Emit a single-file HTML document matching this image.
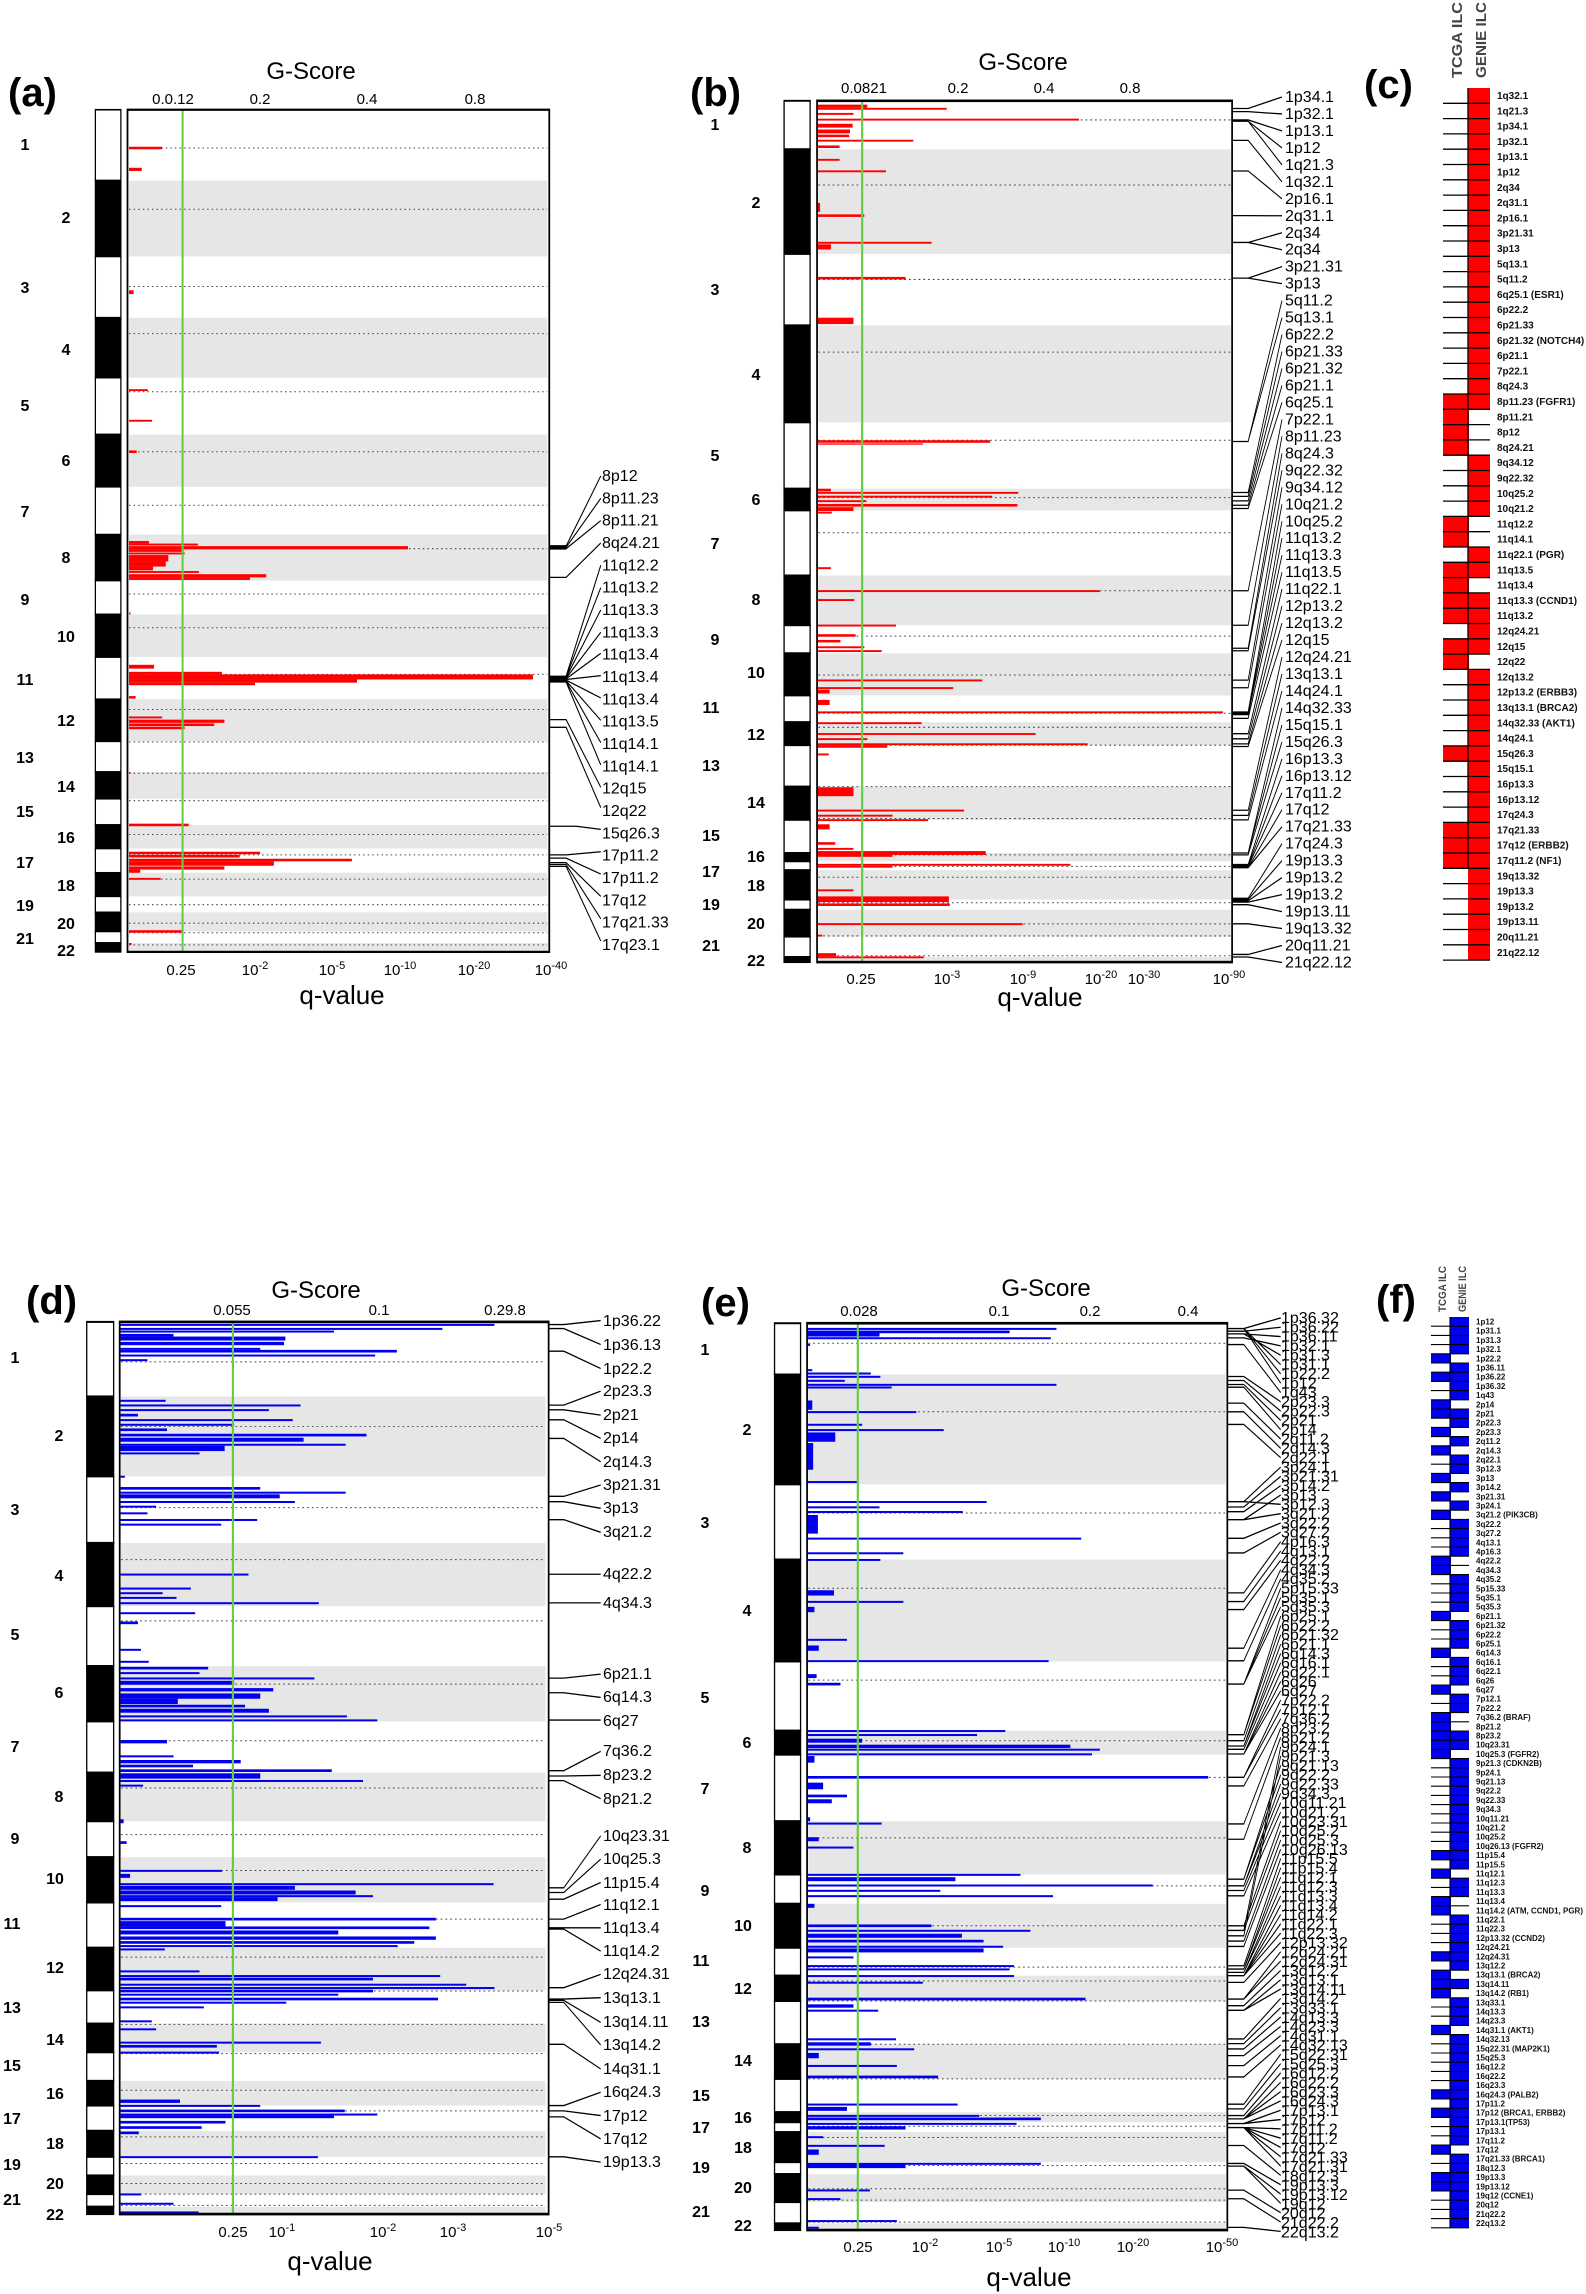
<!DOCTYPE html>
<html><head><meta charset="utf-8"><style>html,body{margin:0;padding:0;background:#fff}svg{display:block}</style></head><body>
<svg width="1586" height="2294" xmlns="http://www.w3.org/2000/svg" font-family="'Liberation Sans', sans-serif">
<rect width="1586" height="2294" fill="#fff"/>

<!-- ================= PANEL A ================= -->
<g transform="scale(0.51,0.638)">
<g fill="#e6e6e6">
<rect x="253" y="283" width="820" height="119"/><rect x="253" y="498" width="820" height="94"/><rect x="253" y="681" width="820" height="82"/><rect x="253" y="838" width="820" height="72"/><rect x="253" y="963" width="820" height="67"/><rect x="253" y="1096" width="820" height="66"/><rect x="253" y="1210" width="820" height="42"/><rect x="253" y="1293" width="820" height="37"/><rect x="253" y="1368" width="820" height="37"/><rect x="253" y="1430" width="820" height="30"/><rect x="253" y="1478" width="820" height="14"/>
</g>
<path stroke="#444" stroke-width="1.6" stroke-dasharray="3,6" fill="none" d="M253 232H1073M253 328H1073M253 449H1073M253 523H1073M253 614H1073M253 708H1073M253 792H1073M253 860H1073M253 931H1073M253 984H1073M253 1057H1073M253 1112H1073M253 1163H1073M253 1212H1073M253 1255H1073M253 1308H1073M253 1340H1073M253 1378H1073M253 1418H1073M253 1447H1073M253 1462H1073M253 1481H1073"/>
<g fill="#f00">
<rect x="253" y="230" width="65" height="4"/><rect x="253" y="263" width="25" height="5"/><rect x="253" y="455" width="9" height="6"/><rect x="253" y="610" width="37" height="3"/><rect x="253" y="658" width="45" height="3"/><rect x="253" y="706" width="15" height="4"/>
<rect x="253" y="848" width="39" height="4"/><rect x="253" y="852" width="135" height="3"/><rect x="253" y="856" width="547" height="5"/><rect x="253" y="861" width="107" height="4"/><rect x="253" y="866" width="109" height="3"/><rect x="253" y="870" width="77" height="10"/><rect x="253" y="880" width="72" height="8"/><rect x="253" y="888" width="47" height="6"/><rect x="253" y="895" width="137" height="3"/><rect x="253" y="900" width="269" height="5"/><rect x="253" y="905" width="237" height="4"/>
<rect x="253" y="960" width="3" height="3"/><rect x="253" y="1042" width="49" height="6"/><rect x="253" y="1053" width="182" height="4"/><rect x="253" y="1057" width="792" height="8"/><rect x="253" y="1065" width="447" height="5"/><rect x="253" y="1070" width="247" height="4"/><rect x="253" y="1091" width="13" height="4"/>
<rect x="253" y="1123" width="65" height="3"/><rect x="253" y="1128" width="187" height="5"/><rect x="253" y="1134" width="167" height="4"/><rect x="253" y="1139" width="109" height="4"/><rect x="253" y="1210" width="3" height="3"/><rect x="253" y="1291" width="117" height="4"/>
<rect x="253" y="1335" width="257" height="4"/><rect x="253" y="1340" width="217" height="4"/><rect x="253" y="1346" width="437" height="4"/><rect x="253" y="1350" width="284" height="7"/><rect x="253" y="1358" width="187" height="5"/><rect x="253" y="1363" width="22" height="5"/><rect x="253" y="1376" width="62" height="3"/><rect x="253" y="1458" width="103" height="4"/><rect x="253" y="1478" width="5" height="3"/>
</g>
<line x1="358" y1="172" x2="358" y2="1492" stroke="#66cc44" stroke-width="4"/>
<rect x="250" y="172" width="827" height="1320" fill="none" stroke="#000" stroke-width="3.5"/>
<g stroke="#000" stroke-width="2.5">
<rect x="187" y="172" width="50" height="111" fill="#fff"/><rect x="187" y="283" width="50" height="119" fill="#000"/><rect x="187" y="402" width="50" height="96" fill="#fff"/><rect x="187" y="498" width="50" height="94" fill="#000"/><rect x="187" y="592" width="50" height="89" fill="#fff"/><rect x="187" y="681" width="50" height="82" fill="#000"/><rect x="187" y="763" width="50" height="75" fill="#fff"/><rect x="187" y="838" width="50" height="72" fill="#000"/><rect x="187" y="910" width="50" height="53" fill="#fff"/><rect x="187" y="963" width="50" height="67" fill="#000"/><rect x="187" y="1030" width="50" height="66" fill="#fff"/><rect x="187" y="1096" width="50" height="66" fill="#000"/><rect x="187" y="1162" width="50" height="48" fill="#fff"/><rect x="187" y="1210" width="50" height="42" fill="#000"/><rect x="187" y="1252" width="50" height="41" fill="#fff"/><rect x="187" y="1293" width="50" height="37" fill="#000"/><rect x="187" y="1330" width="50" height="38" fill="#fff"/><rect x="187" y="1368" width="50" height="37" fill="#000"/><rect x="187" y="1405" width="50" height="25" fill="#fff"/><rect x="187" y="1430" width="50" height="30" fill="#000"/><rect x="187" y="1460" width="50" height="18" fill="#fff"/><rect x="187" y="1478" width="50" height="14" fill="#000"/>
</g>
<path fill="none" stroke="#000" stroke-width="2" d="M1077 856H1110L1178 746M1077 858H1110L1178 781M1077 860H1110L1178 816M1077 905H1110L1178 851M1077 1060H1110L1178 886M1077 1061H1110L1178 921M1077 1062H1110L1178 956M1077 1063H1110L1178 991M1077 1064H1110L1178 1024M1077 1065H1110L1178 1059M1077 1066H1110L1178 1094M1077 1067H1110L1178 1129M1077 1068H1110L1178 1164M1077 1069H1110L1178 1199M1077 1128H1110L1178 1234M1077 1140H1110L1178 1266M1077 1295H1130L1178 1300M1077 1340H1110L1178 1335M1077 1345H1110L1178 1370M1077 1352H1110L1178 1405M1077 1355H1110L1178 1440M1077 1358H1110L1178 1475"/>
<path fill="none" stroke="#000" stroke-width="7" d="M1077 858H1110M1077 1064H1110"/>
</g>
<text x="8" y="106" font-size="40" font-weight="bold">(a)</text>
<text x="311" y="79" font-size="24" text-anchor="middle">G-Score</text>
<g font-size="15" text-anchor="middle">
<text x="173" y="104">0.0.12</text><text x="260" y="104">0.2</text><text x="367" y="104">0.4</text><text x="475" y="104">0.8</text>
<text x="181" y="975">0.25</text><text x="255" y="975">10<tspan dy="-6" font-size="11">-2</tspan></text><text x="332" y="975">10<tspan dy="-6" font-size="11">-5</tspan></text><text x="400" y="975">10<tspan dy="-6" font-size="11">-10</tspan></text><text x="474" y="975">10<tspan dy="-6" font-size="11">-20</tspan></text><text x="551" y="975">10<tspan dy="-6" font-size="11">-40</tspan></text>
</g>
<text x="342" y="1004" font-size="26" text-anchor="middle">q-value</text>
<g font-size="16" font-weight="bold" text-anchor="middle">
<text x="25" y="150">1</text><text x="66" y="223">2</text><text x="25" y="293">3</text><text x="66" y="355">4</text><text x="25" y="411">5</text><text x="66" y="466">6</text><text x="25" y="517">7</text><text x="66" y="563">8</text><text x="25" y="605">9</text><text x="66" y="642">10</text><text x="25" y="685">11</text><text x="66" y="726">12</text><text x="25" y="763">13</text><text x="66" y="792">14</text><text x="25" y="817">15</text><text x="66" y="843">16</text><text x="25" y="868">17</text><text x="66" y="891">18</text><text x="25" y="911">19</text><text x="66" y="929">20</text><text x="25" y="944">21</text><text x="66" y="956">22</text>
</g>
<text font-size="16" x="602" y="481"><tspan x="602">8p12</tspan><tspan x="602" dy="22.33">8p11.23</tspan><tspan x="602" dy="22.33">8p11.21</tspan><tspan x="602" dy="22.33">8q24.21</tspan><tspan x="602" dy="22.33">11q12.2</tspan><tspan x="602" dy="22.33">11q13.2</tspan><tspan x="602" dy="22.33">11q13.3</tspan><tspan x="602" dy="22.33">11q13.3</tspan><tspan x="602" dy="22.33">11q13.4</tspan><tspan x="602" dy="22.33">11q13.4</tspan><tspan x="602" dy="22.33">11q13.4</tspan><tspan x="602" dy="22.33">11q13.5</tspan><tspan x="602" dy="22.33">11q14.1</tspan><tspan x="602" dy="22.33">11q14.1</tspan><tspan x="602" dy="22.33">12q15</tspan><tspan x="602" dy="22.33">12q22</tspan><tspan x="602" dy="22.33">15q26.3</tspan><tspan x="602" dy="22.33">17p11.2</tspan><tspan x="602" dy="22.33">17p11.2</tspan><tspan x="602" dy="22.33">17q12</tspan><tspan x="602" dy="22.33">17q21.33</tspan><tspan x="602" dy="22.33">17q23.1</tspan></text>

<!-- ================= PANEL B ================= -->
<g transform="translate(680,0) scale(0.4337,0.638)">
<g fill="#e6e6e6">
<rect x="319" y="234" width="951" height="164"/><rect x="319" y="510" width="951" height="152"/><rect x="319" y="766" width="951" height="34"/><rect x="319" y="902" width="951" height="78"/><rect x="319" y="1024" width="951" height="66"/><rect x="319" y="1132" width="951" height="36"/><rect x="319" y="1233" width="951" height="52"/><rect x="319" y="1337" width="951" height="13"/><rect x="319" y="1364" width="951" height="46"/><rect x="319" y="1426" width="951" height="42"/><rect x="319" y="1500" width="951" height="8"/>
</g>
<path stroke="#444" stroke-width="1.6" stroke-dasharray="4,7" fill="none" d="M319 188H1270M319 290H1270M319 438H1270M319 552H1270M319 690H1270M319 780H1270M319 835H1270M319 926H1270M319 997H1270M319 1058H1270M319 1118H1270M319 1140H1270M319 1168H1270M319 1233H1270M319 1283H1270M319 1340H1270M319 1358H1270M319 1375H1270M319 1415H1270M319 1448H1270M319 1467H1270M319 1498H1270"/>
<g fill="#f00">
<rect x="318" y="164" width="114" height="5"/><rect x="318" y="169" width="297" height="3"/><rect x="318" y="177" width="82" height="3"/><rect x="318" y="186" width="602" height="3"/><rect x="318" y="194" width="80" height="6"/><rect x="318" y="203" width="74" height="6"/><rect x="318" y="211" width="72" height="4"/><rect x="318" y="219" width="220" height="3"/><rect x="318" y="228" width="50" height="4"/><rect x="318" y="249" width="50" height="3"/><rect x="318" y="267" width="157" height="3"/><rect x="318" y="318" width="5" height="14"/><rect x="318" y="336" width="107" height="4"/><rect x="318" y="379" width="262" height="3"/><rect x="318" y="383" width="30" height="8"/><rect x="318" y="434" width="202" height="4"/><rect x="318" y="498" width="82" height="10"/><rect x="318" y="690" width="397" height="4"/><rect x="318" y="695" width="242" height="2"/><rect x="318" y="766" width="30" height="4"/><rect x="318" y="771" width="462" height="3"/><rect x="318" y="777" width="402" height="3"/><rect x="318" y="784" width="112" height="3"/><rect x="318" y="790" width="460" height="4"/><rect x="318" y="795" width="82" height="6"/><rect x="318" y="802" width="32" height="3"/><rect x="318" y="889" width="30" height="3"/><rect x="318" y="925" width="650" height="3"/><rect x="318" y="939" width="84" height="3"/><rect x="318" y="979" width="180" height="3"/><rect x="318" y="994" width="87" height="4"/><rect x="318" y="1003" width="52" height="4"/><rect x="318" y="1013" width="107" height="3"/><rect x="318" y="1019" width="147" height="3"/><rect x="318" y="1065" width="379" height="3"/><rect x="318" y="1077" width="312" height="3"/><rect x="318" y="1081" width="27" height="6"/><rect x="318" y="1097" width="27" height="8"/><rect x="318" y="1115" width="934" height="3"/><rect x="318" y="1132" width="239" height="3"/><rect x="318" y="1149" width="502" height="3"/><rect x="318" y="1157" width="114" height="3"/><rect x="318" y="1165" width="622" height="3"/><rect x="318" y="1168" width="160" height="4"/><rect x="318" y="1181" width="25" height="3"/><rect x="318" y="1234" width="82" height="14"/><rect x="318" y="1269" width="337" height="3"/><rect x="318" y="1277" width="172" height="3"/><rect x="318" y="1284" width="254" height="3"/><rect x="318" y="1292" width="27" height="8"/><rect x="318" y="1320" width="40" height="4"/><rect x="318" y="1329" width="82" height="3"/><rect x="318" y="1334" width="387" height="6"/><rect x="318" y="1338" width="172" height="5"/><rect x="318" y="1354" width="582" height="3"/><rect x="318" y="1357" width="172" height="3"/><rect x="318" y="1394" width="82" height="3"/><rect x="318" y="1405" width="302" height="9"/><rect x="318" y="1416" width="304" height="4"/><rect x="318" y="1447" width="472" height="3"/><rect x="318" y="1465" width="10" height="3"/><rect x="318" y="1494" width="42" height="5"/><rect x="318" y="1499" width="244" height="3"/>
</g>
<line x1="420" y1="158" x2="420" y2="1508" stroke="#66cc44" stroke-width="5"/>
<rect x="316" y="158" width="957" height="1350" fill="none" stroke="#000" stroke-width="4"/>
<g stroke="#000" stroke-width="3">
<rect x="240" y="158" width="60" height="76" fill="#fff"/><rect x="240" y="234" width="60" height="164" fill="#000"/><rect x="240" y="398" width="60" height="112" fill="#fff"/><rect x="240" y="510" width="60" height="152" fill="#000"/><rect x="240" y="662" width="60" height="104" fill="#fff"/><rect x="240" y="766" width="60" height="34" fill="#000"/><rect x="240" y="800" width="60" height="102" fill="#fff"/><rect x="240" y="902" width="60" height="78" fill="#000"/><rect x="240" y="980" width="60" height="44" fill="#fff"/><rect x="240" y="1024" width="60" height="66" fill="#000"/><rect x="240" y="1090" width="60" height="42" fill="#fff"/><rect x="240" y="1132" width="60" height="36" fill="#000"/><rect x="240" y="1168" width="60" height="65" fill="#fff"/><rect x="240" y="1233" width="60" height="52" fill="#000"/><rect x="240" y="1285" width="60" height="52" fill="#fff"/><rect x="240" y="1337" width="60" height="13" fill="#000"/><rect x="240" y="1350" width="60" height="14" fill="#fff"/><rect x="240" y="1364" width="60" height="46" fill="#000"/><rect x="240" y="1410" width="60" height="16" fill="#fff"/><rect x="240" y="1426" width="60" height="42" fill="#000"/><rect x="240" y="1468" width="60" height="32" fill="#fff"/><rect x="240" y="1500" width="60" height="8" fill="#000"/>
</g>
<path fill="none" stroke="#000" stroke-width="2" d="M1273 170H1310L1388 152M1273 175H1310L1388 178.6M1273 188H1310L1388 205.2M1273 190H1310L1388 231.8M1273 190H1310L1388 258.4M1273 220H1310L1388 285M1273 268H1310L1388 311.6M1273 338H1310L1388 338.2M1273 380H1310L1388 364.8M1273 380H1310L1388 391.4M1273 436H1310L1388 418M1273 436H1310L1388 444.6M1273 692H1310L1388 471.2M1273 692H1310L1388 497.8M1273 772H1310L1388 524.4M1273 778H1310L1388 551M1273 785H1310L1388 577.6M1273 792H1310L1388 604.2M1273 797H1310L1388 630.8M1273 926H1310L1388 657.4M1273 980H1310L1388 684M1273 1016H1310L1388 710.6M1273 1020H1310L1388 737.2M1273 1066H1310L1388 763.8M1273 1078H1310L1388 790.4M1273 1116H1310L1388 817M1273 1118H1310L1388 843.6M1273 1120H1310L1388 870.2M1273 1126H1310L1388 896.8M1273 1150H1310L1388 923.4M1273 1158H1310L1388 950M1273 1166H1310L1388 976.6M1273 1170H1310L1388 1003.2M1273 1270H1310L1388 1029.8M1273 1278H1310L1388 1056.4M1273 1285H1310L1388 1083M1273 1337H1310L1388 1109.6M1273 1337H1310L1388 1136.2M1273 1340H1310L1388 1162.8M1273 1355H1310L1388 1189.4M1273 1357H1310L1388 1216M1273 1358H1310L1388 1242.6M1273 1360H1310L1388 1269.2M1273 1360H1310L1388 1295.8M1273 1408H1310L1388 1322.4M1273 1410H1310L1388 1349M1273 1412H1310L1388 1375.6M1273 1414H1310L1388 1402.2M1273 1418H1310L1388 1428.8M1273 1448H1310L1388 1455.4M1273 1496H1310L1388 1482M1273 1500H1310L1388 1508.6"/>
</g>
<text x="690" y="106" font-size="40" font-weight="bold">(b)</text>
<text x="1023" y="70" font-size="24" text-anchor="middle">G-Score</text>
<g font-size="15" text-anchor="middle">
<text x="864" y="93">0.0821</text><text x="958" y="93">0.2</text><text x="1044" y="93">0.4</text><text x="1130" y="93">0.8</text>
<text x="861" y="984">0.25</text><text x="947" y="984">10<tspan dy="-6" font-size="11">-3</tspan></text><text x="1023" y="984">10<tspan dy="-6" font-size="11">-9</tspan></text><text x="1101" y="984">10<tspan dy="-6" font-size="11">-20</tspan></text><text x="1144" y="984">10<tspan dy="-6" font-size="11">-30</tspan></text><text x="1229" y="984">10<tspan dy="-6" font-size="11">-90</tspan></text>
</g>
<text x="1040" y="1006" font-size="26" text-anchor="middle">q-value</text>
<g font-size="16" font-weight="bold" text-anchor="middle">
<text x="715" y="130">1</text><text x="756" y="208">2</text><text x="715" y="295">3</text><text x="756" y="380">4</text><text x="715" y="461">5</text><text x="756" y="505">6</text><text x="715" y="549">7</text><text x="756" y="605">8</text><text x="715" y="645">9</text><text x="756" y="678">10</text><text x="711" y="713">11</text><text x="756" y="740">12</text><text x="711" y="771">13</text><text x="756" y="808">14</text><text x="711" y="841">15</text><text x="756" y="862">16</text><text x="711" y="877">17</text><text x="756" y="891">18</text><text x="711" y="910">19</text><text x="756" y="929">20</text><text x="711" y="951">21</text><text x="756" y="966">22</text>
</g>
<text font-size="16" y="102"><tspan x="1285">1p34.1</tspan><tspan x="1285" dy="16.97">1p32.1</tspan><tspan x="1285" dy="16.97">1p13.1</tspan><tspan x="1285" dy="16.97">1p12</tspan><tspan x="1285" dy="16.97">1q21.3</tspan><tspan x="1285" dy="16.97">1q32.1</tspan><tspan x="1285" dy="16.97">2p16.1</tspan><tspan x="1285" dy="16.97">2q31.1</tspan><tspan x="1285" dy="16.97">2q34</tspan><tspan x="1285" dy="16.97">2q34</tspan><tspan x="1285" dy="16.97">3p21.31</tspan><tspan x="1285" dy="16.97">3p13</tspan><tspan x="1285" dy="16.97">5q11.2</tspan><tspan x="1285" dy="16.97">5q13.1</tspan><tspan x="1285" dy="16.97">6p22.2</tspan><tspan x="1285" dy="16.97">6p21.33</tspan><tspan x="1285" dy="16.97">6p21.32</tspan><tspan x="1285" dy="16.97">6p21.1</tspan><tspan x="1285" dy="16.97">6q25.1</tspan><tspan x="1285" dy="16.97">7p22.1</tspan><tspan x="1285" dy="16.97">8p11.23</tspan><tspan x="1285" dy="16.97">8q24.3</tspan><tspan x="1285" dy="16.97">9q22.32</tspan><tspan x="1285" dy="16.97">9q34.12</tspan><tspan x="1285" dy="16.97">10q21.2</tspan><tspan x="1285" dy="16.97">10q25.2</tspan><tspan x="1285" dy="16.97">11q13.2</tspan><tspan x="1285" dy="16.97">11q13.3</tspan><tspan x="1285" dy="16.97">11q13.5</tspan><tspan x="1285" dy="16.97">11q22.1</tspan><tspan x="1285" dy="16.97">12p13.2</tspan><tspan x="1285" dy="16.97">12q13.2</tspan><tspan x="1285" dy="16.97">12q15</tspan><tspan x="1285" dy="16.97">12q24.21</tspan><tspan x="1285" dy="16.97">13q13.1</tspan><tspan x="1285" dy="16.97">14q24.1</tspan><tspan x="1285" dy="16.97">14q32.33</tspan><tspan x="1285" dy="16.97">15q15.1</tspan><tspan x="1285" dy="16.97">15q26.3</tspan><tspan x="1285" dy="16.97">16p13.3</tspan><tspan x="1285" dy="16.97">16p13.12</tspan><tspan x="1285" dy="16.97">17q11.2</tspan><tspan x="1285" dy="16.97">17q12</tspan><tspan x="1285" dy="16.97">17q21.33</tspan><tspan x="1285" dy="16.97">17q24.3</tspan><tspan x="1285" dy="16.97">19p13.3</tspan><tspan x="1285" dy="16.97">19p13.2</tspan><tspan x="1285" dy="16.97">19p13.2</tspan><tspan x="1285" dy="16.97">19p13.11</tspan><tspan x="1285" dy="16.97">19q13.32</tspan><tspan x="1285" dy="16.97">20q11.21</tspan><tspan x="1285" dy="16.97">21q22.12</tspan></text>

<!-- ================= PANEL C ================= -->
<text x="1364" y="98" font-size="40" font-weight="bold">(c)</text>
<g font-size="15" fill="#444" font-weight="bold">
<text transform="translate(1462,78) rotate(-90)" textLength="76" lengthAdjust="spacingAndGlyphs">TCGA ILC</text>
<text transform="translate(1486,78) rotate(-90)" textLength="76" lengthAdjust="spacingAndGlyphs">GENIE ILC</text>
</g>
<rect x="1468" y="88" width="22" height="872" fill="#f00"/>
<g fill="#fff"><rect x="1469" y="409.3" width="21" height="45.9"/><rect x="1469" y="516.4" width="21" height="30.6"/><rect x="1469" y="577.6" width="21" height="15.3"/><rect x="1469" y="654.1" width="21" height="15.3"/></g>
<g fill="#f00"><rect x="1443" y="394" width="25" height="61.2"/><rect x="1443" y="516.4" width="25" height="30.6"/><rect x="1443" y="562.3" width="25" height="61.2"/><rect x="1443" y="638.8" width="25" height="30.6"/><rect x="1443" y="745.9" width="25" height="15.3"/><rect x="1443" y="822.4" width="25" height="45.9"/></g>
<path stroke="#000" stroke-width="1.3" fill="none" d="M1468 88V868M1443 103.3H1490M1443 118.6H1490M1443 133.9H1490M1443 149.2H1490M1443 164.5H1490M1443 179.8H1490M1443 195.1H1490M1443 210.4H1490M1443 225.7H1490M1443 241H1490M1443 256.3H1490M1443 271.6H1490M1443 286.9H1490M1443 302.2H1490M1443 317.5H1490M1443 332.8H1490M1443 348.1H1490M1443 363.4H1490M1443 378.7H1490M1443 394H1490M1443 409.3H1490M1443 424.6H1490M1443 439.9H1490M1443 455.2H1490M1443 470.5H1490M1443 485.8H1490M1443 501.1H1490M1443 516.4H1490M1443 531.7H1490M1443 547H1490M1443 562.3H1490M1443 577.6H1490M1443 592.9H1490M1443 608.2H1490M1443 623.5H1490M1443 638.8H1490M1443 654.1H1490M1443 669.4H1490M1443 684.7H1490M1443 700H1490M1443 715.3H1490M1443 730.6H1490M1443 745.9H1490M1443 761.2H1490M1443 776.5H1490M1443 791.8H1490M1443 807.1H1490M1443 822.4H1490M1443 837.7H1490M1443 853H1490M1443 868.3H1490M1443 883.6H1490M1443 898.9H1490M1443 914.2H1490M1443 929.5H1490M1443 944.8H1490M1443 960.1H1490"/>
<text font-size="10" font-weight="bold" y="99" fill="#111"><tspan x="1497">1q32.1</tspan><tspan x="1497" dy="15.3">1q21.3</tspan><tspan x="1497" dy="15.3">1p34.1</tspan><tspan x="1497" dy="15.3">1p32.1</tspan><tspan x="1497" dy="15.3">1p13.1</tspan><tspan x="1497" dy="15.3">1p12</tspan><tspan x="1497" dy="15.3">2q34</tspan><tspan x="1497" dy="15.3">2q31.1</tspan><tspan x="1497" dy="15.3">2p16.1</tspan><tspan x="1497" dy="15.3">3p21.31</tspan><tspan x="1497" dy="15.3">3p13</tspan><tspan x="1497" dy="15.3">5q13.1</tspan><tspan x="1497" dy="15.3">5q11.2</tspan><tspan x="1497" dy="15.3">6q25.1 (ESR1)</tspan><tspan x="1497" dy="15.3">6p22.2</tspan><tspan x="1497" dy="15.3">6p21.33</tspan><tspan x="1497" dy="15.3">6p21.32 (NOTCH4)</tspan><tspan x="1497" dy="15.3">6p21.1</tspan><tspan x="1497" dy="15.3">7p22.1</tspan><tspan x="1497" dy="15.3">8q24.3</tspan><tspan x="1497" dy="15.3">8p11.23 (FGFR1)</tspan><tspan x="1497" dy="15.3">8p11.21</tspan><tspan x="1497" dy="15.3">8p12</tspan><tspan x="1497" dy="15.3">8q24.21</tspan><tspan x="1497" dy="15.3">9q34.12</tspan><tspan x="1497" dy="15.3">9q22.32</tspan><tspan x="1497" dy="15.3">10q25.2</tspan><tspan x="1497" dy="15.3">10q21.2</tspan><tspan x="1497" dy="15.3">11q12.2</tspan><tspan x="1497" dy="15.3">11q14.1</tspan><tspan x="1497" dy="15.3">11q22.1 (PGR)</tspan><tspan x="1497" dy="15.3">11q13.5</tspan><tspan x="1497" dy="15.3">11q13.4</tspan><tspan x="1497" dy="15.3">11q13.3 (CCND1)</tspan><tspan x="1497" dy="15.3">11q13.2</tspan><tspan x="1497" dy="15.3">12q24.21</tspan><tspan x="1497" dy="15.3">12q15</tspan><tspan x="1497" dy="15.3">12q22</tspan><tspan x="1497" dy="15.3">12q13.2</tspan><tspan x="1497" dy="15.3">12p13.2 (ERBB3)</tspan><tspan x="1497" dy="15.3">13q13.1 (BRCA2)</tspan><tspan x="1497" dy="15.3">14q32.33 (AKT1)</tspan><tspan x="1497" dy="15.3">14q24.1</tspan><tspan x="1497" dy="15.3">15q26.3</tspan><tspan x="1497" dy="15.3">15q15.1</tspan><tspan x="1497" dy="15.3">16p13.3</tspan><tspan x="1497" dy="15.3">16p13.12</tspan><tspan x="1497" dy="15.3">17q24.3</tspan><tspan x="1497" dy="15.3">17q21.33</tspan><tspan x="1497" dy="15.3">17q12 (ERBB2)</tspan><tspan x="1497" dy="15.3">17q11.2 (NF1)</tspan><tspan x="1497" dy="15.3">19q13.32</tspan><tspan x="1497" dy="15.3">19p13.3</tspan><tspan x="1497" dy="15.3">19p13.2</tspan><tspan x="1497" dy="15.3">19p13.11</tspan><tspan x="1497" dy="15.3">20q11.21</tspan><tspan x="1497" dy="15.3">21q22.12</tspan></text>

<!-- ================= PANEL D ================= -->
<g transform="translate(0,1250) scale(0.4337,0.6658)">
<g fill="#e6e6e6">
<rect x="279" y="220" width="979" height="120"/><rect x="279" y="440" width="979" height="95"/><rect x="279" y="625" width="979" height="83"/><rect x="279" y="785" width="979" height="73"/><rect x="279" y="912" width="979" height="68"/><rect x="279" y="1048" width="979" height="64"/><rect x="279" y="1162" width="979" height="43"/><rect x="279" y="1248" width="979" height="37"/><rect x="279" y="1323" width="979" height="39"/><rect x="279" y="1390" width="979" height="28"/><rect x="279" y="1437" width="979" height="11"/>
</g>
<path stroke="#444" stroke-width="1.5" stroke-dasharray="4,7" fill="none" d="M279 168H1258M279 265H1258M279 387H1258M279 465H1258M279 557H1258M279 652H1258M279 737H1258M279 808H1258M279 878H1258M279 932H1258M279 1005H1258M279 1062H1258M279 1113H1258M279 1163H1258M279 1207H1258M279 1262H1258M279 1293H1258M279 1332H1258M279 1372H1258M279 1402H1258M279 1418H1258M279 1435H1258"/>
<g fill="#0000ee">
<rect x="278" y="111" width="862" height="3"/><rect x="278" y="117" width="742" height="3"/><rect x="278" y="121" width="492" height="3"/><rect x="278" y="126" width="122" height="4"/><rect x="278" y="130" width="380" height="6"/><rect x="278" y="138" width="377" height="5"/><rect x="278" y="147" width="322" height="3"/><rect x="278" y="150" width="637" height="4"/><rect x="278" y="157" width="587" height="3"/><rect x="278" y="164" width="62" height="3"/>
<rect x="278" y="225" width="104" height="3"/><rect x="278" y="232" width="415" height="3"/><rect x="278" y="239" width="342" height="3"/><rect x="278" y="246" width="40" height="4"/><rect x="278" y="254" width="397" height="3"/><rect x="278" y="261" width="262" height="3"/><rect x="278" y="268" width="107" height="4"/><rect x="278" y="276" width="567" height="4"/><rect x="278" y="282" width="422" height="6"/><rect x="278" y="291" width="519" height="3"/><rect x="278" y="294" width="240" height="8"/><rect x="278" y="304" width="182" height="3"/><rect x="278" y="339" width="10" height="3"/>
<rect x="278" y="356" width="322" height="4"/><rect x="278" y="363" width="519" height="3"/><rect x="278" y="367" width="367" height="6"/><rect x="278" y="377" width="402" height="3"/><rect x="278" y="384" width="82" height="3"/><rect x="278" y="394" width="62" height="3"/><rect x="278" y="404" width="315" height="3"/><rect x="278" y="411" width="232" height="3"/>
<rect x="278" y="486" width="295" height="3"/><rect x="278" y="507" width="162" height="3"/><rect x="278" y="514" width="97" height="3"/><rect x="278" y="521" width="129" height="3"/><rect x="278" y="529" width="457" height="3"/><rect x="278" y="544" width="172" height="3"/><rect x="278" y="558" width="40" height="4"/><rect x="278" y="599" width="47" height="3"/><rect x="278" y="617" width="65" height="3"/>
<rect x="278" y="626" width="202" height="4"/><rect x="278" y="634" width="182" height="3"/><rect x="278" y="642" width="447" height="3"/><rect x="278" y="647" width="262" height="6"/><rect x="278" y="658" width="352" height="5"/><rect x="278" y="666" width="322" height="8"/><rect x="278" y="674" width="132" height="8"/><rect x="278" y="683" width="287" height="4"/><rect x="278" y="689" width="342" height="6"/><rect x="278" y="699" width="522" height="3"/><rect x="278" y="705" width="592" height="3"/>
<rect x="278" y="736" width="107" height="5"/><rect x="278" y="759" width="122" height="3"/><rect x="278" y="766" width="277" height="5"/><rect x="278" y="773" width="167" height="4"/><rect x="278" y="780" width="487" height="4"/><rect x="278" y="786" width="322" height="8"/><rect x="278" y="796" width="559" height="3"/><rect x="278" y="803" width="52" height="3"/><rect x="278" y="855" width="7" height="6"/><rect x="278" y="888" width="14" height="4"/>
<rect x="278" y="931" width="234" height="3"/><rect x="278" y="937" width="22" height="6"/><rect x="278" y="951" width="860" height="3"/><rect x="278" y="955" width="402" height="6"/><rect x="278" y="962" width="542" height="6"/><rect x="278" y="969" width="582" height="3"/><rect x="278" y="972" width="362" height="6"/><rect x="278" y="984" width="232" height="3"/>
<rect x="278" y="1003" width="727" height="4"/><rect x="278" y="1008" width="242" height="8"/><rect x="278" y="1016" width="712" height="4"/><rect x="278" y="1022" width="502" height="6"/><rect x="278" y="1031" width="727" height="5"/><rect x="278" y="1038" width="677" height="4"/><rect x="278" y="1044" width="639" height="3"/><rect x="278" y="1049" width="102" height="3"/>
<rect x="278" y="1082" width="182" height="3"/><rect x="278" y="1089" width="737" height="3"/><rect x="278" y="1093" width="582" height="4"/><rect x="278" y="1102" width="797" height="3"/><rect x="278" y="1107" width="862" height="3"/><rect x="278" y="1111" width="582" height="4"/><rect x="278" y="1117" width="502" height="3"/><rect x="278" y="1123" width="732" height="4"/><rect x="278" y="1129" width="382" height="3"/><rect x="278" y="1136" width="192" height="3"/><rect x="278" y="1157" width="72" height="3"/>
<rect x="278" y="1169" width="82" height="3"/><rect x="278" y="1189" width="462" height="3"/><rect x="278" y="1194" width="222" height="4"/><rect x="278" y="1204" width="227" height="3"/>
<rect x="278" y="1276" width="137" height="5"/><rect x="278" y="1284" width="322" height="3"/><rect x="278" y="1291" width="517" height="4"/><rect x="278" y="1297" width="592" height="3"/><rect x="278" y="1300" width="492" height="4"/><rect x="278" y="1308" width="242" height="4"/><rect x="278" y="1316" width="187" height="4"/><rect x="278" y="1324" width="42" height="4"/><rect x="278" y="1361" width="455" height="3"/><rect x="278" y="1417" width="47" height="3"/><rect x="278" y="1431" width="122" height="3"/><rect x="278" y="1444" width="180" height="3"/>
</g>
<line x1="537" y1="108" x2="537" y2="1448" stroke="#66cc44" stroke-width="5"/>
<rect x="276" y="108" width="989" height="1340" fill="none" stroke="#000" stroke-width="4"/>
<g stroke="#000" stroke-width="3">
<rect x="200" y="108" width="62" height="112" fill="#fff"/><rect x="200" y="220" width="62" height="120" fill="#000"/><rect x="200" y="340" width="62" height="100" fill="#fff"/><rect x="200" y="440" width="62" height="95" fill="#000"/><rect x="200" y="535" width="62" height="90" fill="#fff"/><rect x="200" y="625" width="62" height="83" fill="#000"/><rect x="200" y="708" width="62" height="77" fill="#fff"/><rect x="200" y="785" width="62" height="73" fill="#000"/><rect x="200" y="858" width="62" height="54" fill="#fff"/><rect x="200" y="912" width="62" height="68" fill="#000"/><rect x="200" y="980" width="62" height="68" fill="#fff"/><rect x="200" y="1048" width="62" height="64" fill="#000"/><rect x="200" y="1112" width="62" height="50" fill="#fff"/><rect x="200" y="1162" width="62" height="43" fill="#000"/><rect x="200" y="1205" width="62" height="43" fill="#fff"/><rect x="200" y="1248" width="62" height="37" fill="#000"/><rect x="200" y="1285" width="62" height="38" fill="#fff"/><rect x="200" y="1323" width="62" height="39" fill="#000"/><rect x="200" y="1362" width="62" height="28" fill="#fff"/><rect x="200" y="1390" width="62" height="28" fill="#000"/><rect x="200" y="1418" width="62" height="19" fill="#fff"/><rect x="200" y="1437" width="62" height="11" fill="#000"/>
</g>
<path fill="none" stroke="#000" stroke-width="2" d="M1265 112H1300L1385 106M1265 118H1300L1385 142M1265 152H1300L1385 178M1265 233H1300L1385 212M1265 240H1300L1385 248M1265 255H1300L1385 283M1265 283H1300L1385 318M1265 370H1300L1385 353M1265 378H1300L1385 388M1265 405H1300L1385 424M1265 487H1385M1265 530H1385M1265 643H1300L1385 637M1265 665H1300L1385 672M1265 706H1385M1265 782H1300L1385 753M1265 790H1300L1385 789M1265 797H1300L1385 824M1265 958H1300L1385 880M1265 965H1300L1385 915M1265 975H1300L1385 950M1265 1005H1300L1385 983M1265 1018H1300L1385 1018M1265 1020H1300L1385 1053M1265 1108H1300L1385 1088M1265 1125H1300L1385 1123M1265 1127H1300L1385 1160M1265 1130H1300L1385 1194M1265 1193H1300L1385 1230M1265 1285H1300L1385 1265M1265 1293H1300L1385 1300M1265 1302H1300L1385 1335M1265 1362H1300L1385 1370"/>
</g>
<text x="26" y="1314" font-size="40" font-weight="bold">(d)</text>
<text x="316" y="1298" font-size="24" text-anchor="middle">G-Score</text>
<g font-size="15" text-anchor="middle">
<text x="232" y="1315">0.055</text><text x="379" y="1315">0.1</text><text x="505" y="1315">0.29.8</text>
<text x="233" y="2237">0.25</text><text x="282" y="2237">10<tspan dy="-6" font-size="11">-1</tspan></text><text x="383" y="2237">10<tspan dy="-6" font-size="11">-2</tspan></text><text x="453" y="2237">10<tspan dy="-6" font-size="11">-3</tspan></text><text x="549" y="2237">10<tspan dy="-6" font-size="11">-5</tspan></text>
</g>
<text x="330" y="2270" font-size="26" text-anchor="middle">q-value</text>
<g font-size="16" font-weight="bold" text-anchor="middle">
<text x="15" y="1363">1</text><text x="59" y="1441">2</text><text x="15" y="1515">3</text><text x="59" y="1581">4</text><text x="15" y="1640">5</text><text x="59" y="1698">6</text><text x="15" y="1752">7</text><text x="59" y="1802">8</text><text x="15" y="1844">9</text><text x="55" y="1884">10</text><text x="12" y="1929">11</text><text x="55" y="1973">12</text><text x="12" y="2013">13</text><text x="55" y="2045">14</text><text x="12" y="2071">15</text><text x="55" y="2099">16</text><text x="12" y="2124">17</text><text x="55" y="2149">18</text><text x="12" y="2170">19</text><text x="55" y="2189">20</text><text x="12" y="2205">21</text><text x="55" y="2220">22</text>
</g>
<g font-size="16">
<text x="603" y="1326">1p36.22</text><text x="603" y="1350">1p36.13</text><text x="603" y="1374">1p22.2</text><text x="603" y="1396">2p23.3</text><text x="603" y="1420">2p21</text><text x="603" y="1443">2p14</text><text x="603" y="1467">2q14.3</text><text x="603" y="1490">3p21.31</text><text x="603" y="1513">3p13</text><text x="603" y="1537">3q21.2</text><text x="603" y="1579">4q22.2</text><text x="603" y="1608">4q34.3</text><text x="603" y="1679">6p21.1</text><text x="603" y="1702">6q14.3</text><text x="603" y="1726">6q27</text><text x="603" y="1756">7q36.2</text><text x="603" y="1780">8p23.2</text><text x="603" y="1804">8p21.2</text><text x="603" y="1841">10q23.31</text><text x="603" y="1864">10q25.3</text><text x="603" y="1888">11p15.4</text><text x="603" y="1910">11q12.1</text><text x="603" y="1933">11q13.4</text><text x="603" y="1956">11q14.2</text><text x="603" y="1979">12q24.31</text><text x="603" y="2003">13q13.1</text><text x="603" y="2027">13q14.11</text><text x="603" y="2050">13q14.2</text><text x="603" y="2074">14q31.1</text><text x="603" y="2097">16q24.3</text><text x="603" y="2121">17p12</text><text x="603" y="2144">17q12</text><text x="603" y="2167">19p13.3</text>
</g>

<!-- ================= PANEL E ================= -->
<g transform="translate(680,1250) scale(0.4337,0.6658)">
<g fill="#e6e6e6">
<rect x="296" y="187" width="962" height="165"/><rect x="296" y="465" width="962" height="153"/><rect x="296" y="722" width="962" height="36"/><rect x="296" y="858" width="962" height="80"/><rect x="296" y="982" width="962" height="66"/><rect x="296" y="1090" width="962" height="38"/><rect x="296" y="1193" width="962" height="52"/><rect x="296" y="1295" width="962" height="15"/><rect x="296" y="1325" width="962" height="45"/><rect x="296" y="1388" width="962" height="42"/><rect x="296" y="1462" width="962" height="10"/>
</g>
<path stroke="#444" stroke-width="1.5" stroke-dasharray="4,7" fill="none" d="M296 140H1258M296 243H1258M296 395H1258M296 508H1258M296 646H1258M296 737H1258M296 792H1258M296 883H1258M296 955H1258M296 1015H1258M296 1077H1258M296 1098H1258M296 1128H1258M296 1193H1258M296 1245H1258M296 1300H1258M296 1316H1258M296 1333H1258M296 1375H1258M296 1410H1258M296 1427H1258M296 1460H1258"/>
<g fill="#0000ee">
<rect x="295" y="117" width="573" height="3"/><rect x="295" y="121" width="465" height="4"/><rect x="295" y="124" width="165" height="6"/><rect x="295" y="131" width="560" height="3"/><rect x="295" y="141" width="5" height="3"/><rect x="295" y="179" width="10" height="3"/><rect x="295" y="184" width="145" height="3"/><rect x="295" y="189" width="167" height="3"/><rect x="295" y="195" width="85" height="3"/><rect x="295" y="201" width="573" height="3"/><rect x="295" y="205" width="193" height="3"/><rect x="295" y="242" width="250" height="3"/><rect x="295" y="226" width="10" height="14"/><rect x="295" y="261" width="125" height="3"/><rect x="295" y="269" width="313" height="3"/><rect x="295" y="274" width="63" height="14"/><rect x="295" y="290" width="12" height="40"/><rect x="295" y="347" width="115" height="3"/>
<rect x="295" y="377" width="412" height="3"/><rect x="295" y="385" width="165" height="3"/><rect x="295" y="392" width="357" height="3"/><rect x="295" y="398" width="23" height="28"/><rect x="295" y="432" width="630" height="3"/><rect x="295" y="454" width="220" height="3"/><rect x="295" y="464" width="167" height="3"/><rect x="295" y="511" width="60" height="8"/><rect x="295" y="527" width="220" height="3"/><rect x="295" y="536" width="15" height="8"/><rect x="295" y="584" width="90" height="3"/><rect x="295" y="594" width="25" height="8"/><rect x="295" y="616" width="555" height="3"/><rect x="295" y="637" width="20" height="6"/><rect x="295" y="650" width="75" height="4"/>
<rect x="295" y="721" width="455" height="3"/><rect x="295" y="727" width="390" height="3"/><rect x="295" y="734" width="125" height="6"/><rect x="295" y="743" width="605" height="5"/><rect x="295" y="749" width="673" height="3"/><rect x="295" y="756" width="655" height="3"/><rect x="295" y="760" width="15" height="10"/><rect x="295" y="790" width="923" height="4"/><rect x="295" y="800" width="35" height="10"/><rect x="295" y="818" width="90" height="4"/><rect x="295" y="825" width="55" height="6"/><rect x="295" y="852" width="5" height="6"/><rect x="295" y="860" width="170" height="3"/><rect x="295" y="882" width="25" height="6"/><rect x="295" y="896" width="105" height="3"/>
<rect x="295" y="937" width="490" height="3"/><rect x="295" y="942" width="340" height="6"/><rect x="295" y="953" width="795" height="3"/><rect x="295" y="961" width="305" height="3"/><rect x="295" y="969" width="565" height="3"/><rect x="295" y="982" width="15" height="6"/><rect x="295" y="1013" width="285" height="4"/><rect x="295" y="1021" width="513" height="3"/><rect x="295" y="1027" width="355" height="6"/><rect x="295" y="1036" width="405" height="4"/><rect x="295" y="1045" width="450" height="3"/><rect x="295" y="1049" width="405" height="6"/><rect x="295" y="1061" width="105" height="3"/><rect x="295" y="1074" width="475" height="3"/><rect x="295" y="1079" width="465" height="3"/><rect x="295" y="1089" width="475" height="3"/><rect x="295" y="1099" width="265" height="3"/><rect x="295" y="1123" width="640" height="4"/><rect x="295" y="1133" width="105" height="5"/><rect x="295" y="1141" width="162" height="3"/>
<rect x="295" y="1184" width="203" height="3"/><rect x="295" y="1190" width="145" height="5"/><rect x="295" y="1199" width="245" height="3"/><rect x="295" y="1206" width="25" height="8"/><rect x="295" y="1224" width="205" height="3"/><rect x="295" y="1240" width="300" height="4"/><rect x="295" y="1282" width="345" height="3"/><rect x="295" y="1287" width="90" height="6"/><rect x="295" y="1299" width="395" height="3"/><rect x="295" y="1303" width="537" height="4"/><rect x="295" y="1311" width="481" height="3"/><rect x="295" y="1316" width="225" height="5"/><rect x="295" y="1331" width="35" height="3"/><rect x="295" y="1344" width="177" height="3"/><rect x="295" y="1351" width="25" height="8"/><rect x="295" y="1371" width="537" height="3"/><rect x="295" y="1373" width="225" height="6"/><rect x="295" y="1411" width="143" height="3"/><rect x="295" y="1424" width="75" height="3"/><rect x="295" y="1457" width="205" height="3"/><rect x="295" y="1467" width="25" height="3"/>
</g>
<line x1="410" y1="110" x2="410" y2="1472" stroke="#66cc44" stroke-width="5"/>
<rect x="293" y="110" width="969" height="1362" fill="none" stroke="#000" stroke-width="4"/>
<g stroke="#000" stroke-width="3">
<rect x="218" y="110" width="60" height="77" fill="#fff"/><rect x="218" y="187" width="60" height="165" fill="#000"/><rect x="218" y="352" width="60" height="113" fill="#fff"/><rect x="218" y="465" width="60" height="153" fill="#000"/><rect x="218" y="618" width="60" height="104" fill="#fff"/><rect x="218" y="722" width="60" height="36" fill="#000"/><rect x="218" y="758" width="60" height="100" fill="#fff"/><rect x="218" y="858" width="60" height="80" fill="#000"/><rect x="218" y="938" width="60" height="44" fill="#fff"/><rect x="218" y="982" width="60" height="66" fill="#000"/><rect x="218" y="1048" width="60" height="42" fill="#fff"/><rect x="218" y="1090" width="60" height="38" fill="#000"/><rect x="218" y="1128" width="60" height="65" fill="#fff"/><rect x="218" y="1193" width="60" height="52" fill="#000"/><rect x="218" y="1245" width="60" height="50" fill="#fff"/><rect x="218" y="1295" width="60" height="15" fill="#000"/><rect x="218" y="1310" width="60" height="15" fill="#fff"/><rect x="218" y="1325" width="60" height="45" fill="#000"/><rect x="218" y="1370" width="60" height="18" fill="#fff"/><rect x="218" y="1388" width="60" height="42" fill="#000"/><rect x="218" y="1430" width="60" height="32" fill="#fff"/><rect x="218" y="1462" width="60" height="10" fill="#000"/>
</g>
<path fill="none" stroke="#000" stroke-width="2" d="M1262 118H1300L1385 102M1262 122H1300L1385 116M1262 126H1300L1385 130M1262 132H1300L1385 144M1262 126H1300L1385 158M1262 118H1300L1385 172M1262 118H1300L1385 186M1262 118H1300L1385 200M1262 142H1300L1385 214M1262 190H1300L1385 228M1262 196H1300L1385 242M1262 202H1300L1385 256M1262 206H1300L1385 270M1262 230H1300L1385 284M1262 243H1300L1385 298M1262 262H1300L1385 312M1262 378H1300L1385 326M1262 386H1300L1385 340M1262 393H1300L1385 354M1262 405H1300L1385 368M1262 378H1300L1385 382M1262 405H1300L1385 396M1262 433H1300L1385 410M1262 455H1300L1385 424M1262 515H1300L1385 438M1262 528H1300L1385 452M1262 540H1300L1385 466M1262 598H1300L1385 480M1262 617H1300L1385 494M1262 652H1300L1385 508M1262 652H1300L1385 522M1262 652H1300L1385 536M1262 728H1300L1385 550M1262 728H1300L1385 564M1262 737H1300L1385 578M1262 745H1300L1385 592M1262 745H1300L1385 606M1262 750H1300L1385 620M1262 757H1300L1385 634M1262 757H1300L1385 648M1262 757H1300L1385 662M1262 792H1300L1385 676M1262 792H1300L1385 690M1262 805H1300L1385 704M1262 862H1300L1385 718M1262 885H1300L1385 732M1262 1022H1300L1385 746M1262 1030H1300L1385 760M1262 945H1300L1385 774M1262 945H1300L1385 788M1262 955H1300L1385 802M1262 955H1300L1385 816M1262 962H1300L1385 830M1262 970H1300L1385 844M1262 1015H1300L1385 858M1262 1022H1300L1385 872M1262 1038H1300L1385 886M1262 1046H1300L1385 900M1262 1075H1300L1385 914M1262 1080H1300L1385 928M1262 1080H1300L1385 942M1262 1085H1300L1385 956M1262 1085H1300L1385 970M1262 1090H1300L1385 984M1262 1090H1300L1385 998M1262 1090H1300L1385 1012M1262 1090H1300L1385 1026M1262 1100H1300L1385 1040M1262 1125H1300L1385 1054M1262 1125H1300L1385 1068M1262 1135H1300L1385 1082M1262 1142H1300L1385 1096M1262 1142H1300L1385 1110M1262 1185H1300L1385 1124M1262 1192H1300L1385 1138M1262 1200H1300L1385 1152M1262 1210H1300L1385 1166M1262 1225H1300L1385 1180M1262 1242H1300L1385 1194M1262 1283H1300L1385 1208M1262 1290H1300L1385 1222M1262 1300H1300L1385 1236M1262 1305H1300L1385 1250M1262 1305H1300L1385 1264M1262 1305H1300L1385 1278M1262 1312H1300L1385 1292M1262 1312H1300L1385 1306M1262 1318H1300L1385 1320M1262 1318H1300L1385 1334M1262 1318H1300L1385 1348M1262 1318H1300L1385 1362M1262 1318H1300L1385 1376M1262 1345H1300L1385 1390M1262 1372H1300L1385 1404M1262 1376H1300L1385 1418M1262 1376H1300L1385 1432M1262 1412H1300L1385 1446M1262 1425H1300L1385 1460M1262 1468H1300L1385 1474"/>
</g>
<text x="701" y="1316" font-size="40" font-weight="bold">(e)</text>
<text x="1046" y="1296" font-size="24" text-anchor="middle">G-Score</text>
<g font-size="15" text-anchor="middle">
<text x="859" y="1316">0.028</text><text x="999" y="1316">0.1</text><text x="1090" y="1316">0.2</text><text x="1188" y="1316">0.4</text>
<text x="858" y="2252">0.25</text><text x="925" y="2252">10<tspan dy="-6" font-size="11">-2</tspan></text><text x="999" y="2252">10<tspan dy="-6" font-size="11">-5</tspan></text><text x="1064" y="2252">10<tspan dy="-6" font-size="11">-10</tspan></text><text x="1133" y="2252">10<tspan dy="-6" font-size="11">-20</tspan></text><text x="1222" y="2252">10<tspan dy="-6" font-size="11">-50</tspan></text>
</g>
<text x="1029" y="2286" font-size="26" text-anchor="middle">q-value</text>
<g font-size="16" font-weight="bold" text-anchor="middle">
<text x="705" y="1355">1</text><text x="747" y="1435">2</text><text x="705" y="1528">3</text><text x="747" y="1616">4</text><text x="705" y="1703">5</text><text x="747" y="1748">6</text><text x="705" y="1794">7</text><text x="747" y="1853">8</text><text x="705" y="1896">9</text><text x="743" y="1931">10</text><text x="701" y="1966">11</text><text x="743" y="1994">12</text><text x="701" y="2027">13</text><text x="743" y="2066">14</text><text x="701" y="2101">15</text><text x="743" y="2123">16</text><text x="701" y="2133">17</text><text x="743" y="2153">18</text><text x="701" y="2173">19</text><text x="743" y="2193">20</text><text x="701" y="2217">21</text><text x="743" y="2231">22</text>
</g>
<text font-size="16" y="1323"><tspan x="1281">1p36.32</tspan><tspan x="1281" dy="9.33">1p36.22</tspan><tspan x="1281" dy="9.33">1p36.11</tspan><tspan x="1281" dy="9.33">1p32.1</tspan><tspan x="1281" dy="9.33">1p31.3</tspan><tspan x="1281" dy="9.33">1p31.1</tspan><tspan x="1281" dy="9.33">1p22.2</tspan><tspan x="1281" dy="9.33">1p12</tspan><tspan x="1281" dy="9.33">1q43</tspan><tspan x="1281" dy="9.33">2p23.3</tspan><tspan x="1281" dy="9.33">2p22.3</tspan><tspan x="1281" dy="9.33">2p21</tspan><tspan x="1281" dy="9.33">2p14</tspan><tspan x="1281" dy="9.33">2q11.2</tspan><tspan x="1281" dy="9.33">2q14.3</tspan><tspan x="1281" dy="9.33">2q22.1</tspan><tspan x="1281" dy="9.33">3p24.1</tspan><tspan x="1281" dy="9.33">3p21.31</tspan><tspan x="1281" dy="9.33">3p14.2</tspan><tspan x="1281" dy="9.33">3p13</tspan><tspan x="1281" dy="9.33">3p12.3</tspan><tspan x="1281" dy="9.33">3q21.2</tspan><tspan x="1281" dy="9.33">3q22.2</tspan><tspan x="1281" dy="9.33">3q27.2</tspan><tspan x="1281" dy="9.33">4p16.3</tspan><tspan x="1281" dy="9.33">4q13.1</tspan><tspan x="1281" dy="9.33">4q22.2</tspan><tspan x="1281" dy="9.33">4q34.3</tspan><tspan x="1281" dy="9.33">4q35.2</tspan><tspan x="1281" dy="9.33">5p15.33</tspan><tspan x="1281" dy="9.33">5q35.1</tspan><tspan x="1281" dy="9.33">5q35.3</tspan><tspan x="1281" dy="9.33">6p25.1</tspan><tspan x="1281" dy="9.33">6p22.2</tspan><tspan x="1281" dy="9.33">6p21.32</tspan><tspan x="1281" dy="9.33">6p21.1</tspan><tspan x="1281" dy="9.33">6q14.3</tspan><tspan x="1281" dy="9.33">6q16.1</tspan><tspan x="1281" dy="9.33">6q22.1</tspan><tspan x="1281" dy="9.33">6q26</tspan><tspan x="1281" dy="9.33">6q27</tspan><tspan x="1281" dy="9.33">7p22.2</tspan><tspan x="1281" dy="9.33">7p12.1</tspan><tspan x="1281" dy="9.33">7q36.2</tspan><tspan x="1281" dy="9.33">8p23.2</tspan><tspan x="1281" dy="9.33">8p21.2</tspan><tspan x="1281" dy="9.33">9p24.1</tspan><tspan x="1281" dy="9.33">9p21.3</tspan><tspan x="1281" dy="9.33">9q21.13</tspan><tspan x="1281" dy="9.33">9q22.2</tspan><tspan x="1281" dy="9.33">9q22.33</tspan><tspan x="1281" dy="9.33">9q34.3</tspan><tspan x="1281" dy="9.33">10q11.21</tspan><tspan x="1281" dy="9.33">10q21.2</tspan><tspan x="1281" dy="9.33">10q23.31</tspan><tspan x="1281" dy="9.33">10q25.2</tspan><tspan x="1281" dy="9.33">10q25.3</tspan><tspan x="1281" dy="9.33">10q26.13</tspan><tspan x="1281" dy="9.33">11p15.5</tspan><tspan x="1281" dy="9.33">11p15.4</tspan><tspan x="1281" dy="9.33">11q12.1</tspan><tspan x="1281" dy="9.33">11q12.3</tspan><tspan x="1281" dy="9.33">11q13.3</tspan><tspan x="1281" dy="9.33">11q13.4</tspan><tspan x="1281" dy="9.33">11q14.2</tspan><tspan x="1281" dy="9.33">11q22.1</tspan><tspan x="1281" dy="9.33">11q22.3</tspan><tspan x="1281" dy="9.33">12p13.32</tspan><tspan x="1281" dy="9.33">12q24.21</tspan><tspan x="1281" dy="9.33">12q24.31</tspan><tspan x="1281" dy="9.33">13q12.2</tspan><tspan x="1281" dy="9.33">13q13.1</tspan><tspan x="1281" dy="9.33">13q14.11</tspan><tspan x="1281" dy="9.33">13q14.2</tspan><tspan x="1281" dy="9.33">13q33.1</tspan><tspan x="1281" dy="9.33">14q13.3</tspan><tspan x="1281" dy="9.33">14q23.3</tspan><tspan x="1281" dy="9.33">14q31.1</tspan><tspan x="1281" dy="9.33">14q32.13</tspan><tspan x="1281" dy="9.33">15q22.31</tspan><tspan x="1281" dy="9.33">15q25.3</tspan><tspan x="1281" dy="9.33">16q12.2</tspan><tspan x="1281" dy="9.33">16q22.2</tspan><tspan x="1281" dy="9.33">16q23.3</tspan><tspan x="1281" dy="9.33">16q24.3</tspan><tspan x="1281" dy="9.33">17p13.1</tspan><tspan x="1281" dy="9.33">17p12</tspan><tspan x="1281" dy="9.33">17p11.2</tspan><tspan x="1281" dy="9.33">17q11.2</tspan><tspan x="1281" dy="9.33">17q12</tspan><tspan x="1281" dy="9.33">17q21.33</tspan><tspan x="1281" dy="9.33">17q21.31</tspan><tspan x="1281" dy="9.33">18q12.3</tspan><tspan x="1281" dy="9.33">19p13.3</tspan><tspan x="1281" dy="9.33">19p13.12</tspan><tspan x="1281" dy="9.33">19q12</tspan><tspan x="1281" dy="9.33">20q12</tspan><tspan x="1281" dy="9.33">21q22.2</tspan><tspan x="1281" dy="9.33">22q13.2</tspan></text>

<!-- ================= PANEL F ================= -->
<text x="1376" y="1313" font-size="40" font-weight="bold">(f)</text>
<g font-size="11" fill="#444" font-weight="bold">
<text transform="translate(1446,1312) rotate(-90)" textLength="46" lengthAdjust="spacingAndGlyphs">TCGA ILC</text>
<text transform="translate(1466,1312) rotate(-90)" textLength="46" lengthAdjust="spacingAndGlyphs">GENIE ILC</text>
</g>
<rect x="1450" y="1317" width="19" height="910.8" fill="#0000ee"/>
<g fill="#fff">
<rect x="1451" y="1353.8" width="18" height="9.2"/><rect x="1451" y="1399.8" width="18" height="9.2"/><rect x="1451" y="1427.4" width="18" height="9.2"/><rect x="1451" y="1445.8" width="18" height="9.2"/><rect x="1451" y="1473.4" width="18" height="9.2"/><rect x="1451" y="1491.8" width="18" height="9.2"/><rect x="1451" y="1510.2" width="18" height="9.2"/><rect x="1451" y="1556.2" width="18" height="18.4"/><rect x="1451" y="1611.4" width="18" height="9.2"/><rect x="1451" y="1648.2" width="18" height="9.2"/><rect x="1451" y="1685" width="18" height="9.2"/><rect x="1451" y="1712.6" width="18" height="18.4"/><rect x="1451" y="1749.4" width="18" height="9.2"/><rect x="1451" y="1869" width="18" height="9.2"/><rect x="1451" y="1896.6" width="18" height="18.4"/><rect x="1451" y="1970.2" width="18" height="9.2"/><rect x="1451" y="1988.6" width="18" height="9.2"/><rect x="1451" y="2025.4" width="18" height="9.2"/><rect x="1451" y="2145" width="18" height="9.2"/>
</g>
<g fill="#0000ee">
<rect x="1431" y="1353.8" width="19" height="9.2"/><rect x="1431" y="1372.2" width="19" height="9.2"/><rect x="1431" y="1399.8" width="19" height="18.4"/><rect x="1431" y="1427.4" width="19" height="9.2"/><rect x="1431" y="1445.8" width="19" height="9.2"/><rect x="1431" y="1473.4" width="19" height="9.2"/><rect x="1431" y="1491.8" width="19" height="9.2"/><rect x="1431" y="1510.2" width="19" height="9.2"/><rect x="1431" y="1556.2" width="19" height="18.4"/><rect x="1431" y="1611.4" width="19" height="9.2"/><rect x="1431" y="1648.2" width="19" height="9.2"/><rect x="1431" y="1685" width="19" height="9.2"/><rect x="1431" y="1712.6" width="19" height="46"/><rect x="1431" y="1850.6" width="19" height="9.2"/><rect x="1431" y="1869" width="19" height="9.2"/><rect x="1431" y="1896.6" width="19" height="18.4"/><rect x="1431" y="1951.8" width="19" height="9.2"/><rect x="1431" y="1970.2" width="19" height="27.6"/><rect x="1431" y="2025.4" width="19" height="9.2"/><rect x="1431" y="2089.8" width="19" height="9.2"/><rect x="1431" y="2108.2" width="19" height="9.2"/><rect x="1431" y="2145" width="19" height="9.2"/><rect x="1431" y="2172.6" width="19" height="18.4"/>
</g>
<path stroke="#000" stroke-width="1.1" fill="none" d="M1450 1317V2228M1431 1326.2H1469M1431 1335.4H1469M1431 1344.6H1469M1431 1353.8H1469M1431 1363H1469M1431 1372.2H1469M1431 1381.4H1469M1431 1390.6H1469M1431 1399.8H1469M1431 1409H1469M1431 1418.2H1469M1431 1427.4H1469M1431 1436.6H1469M1431 1445.8H1469M1431 1455H1469M1431 1464.2H1469M1431 1473.4H1469M1431 1482.6H1469M1431 1491.8H1469M1431 1501H1469M1431 1510.2H1469M1431 1519.4H1469M1431 1528.6H1469M1431 1537.8H1469M1431 1547H1469M1431 1556.2H1469M1431 1565.4H1469M1431 1574.6H1469M1431 1583.8H1469M1431 1593H1469M1431 1602.2H1469M1431 1611.4H1469M1431 1620.6H1469M1431 1629.8H1469M1431 1639H1469M1431 1648.2H1469M1431 1657.4H1469M1431 1666.6H1469M1431 1675.8H1469M1431 1685H1469M1431 1694.2H1469M1431 1703.4H1469M1431 1712.6H1469M1431 1721.8H1469M1431 1731H1469M1431 1740.2H1469M1431 1749.4H1469M1431 1758.6H1469M1431 1767.8H1469M1431 1777H1469M1431 1786.2H1469M1431 1795.4H1469M1431 1804.6H1469M1431 1813.8H1469M1431 1823H1469M1431 1832.2H1469M1431 1841.4H1469M1431 1850.6H1469M1431 1859.8H1469M1431 1869H1469M1431 1878.2H1469M1431 1887.4H1469M1431 1896.6H1469M1431 1905.8H1469M1431 1915H1469M1431 1924.2H1469M1431 1933.4H1469M1431 1942.6H1469M1431 1951.8H1469M1431 1961H1469M1431 1970.2H1469M1431 1979.4H1469M1431 1988.6H1469M1431 1997.8H1469M1431 2007H1469M1431 2016.2H1469M1431 2025.4H1469M1431 2034.6H1469M1431 2043.8H1469M1431 2053H1469M1431 2062.2H1469M1431 2071.4H1469M1431 2080.6H1469M1431 2089.8H1469M1431 2099H1469M1431 2108.2H1469M1431 2117.4H1469M1431 2126.6H1469M1431 2135.8H1469M1431 2145H1469M1431 2154.2H1469M1431 2163.4H1469M1431 2172.6H1469M1431 2181.8H1469M1431 2191H1469M1431 2200.2H1469M1431 2209.4H1469M1431 2218.6H1469M1431 2227.8H1469"/>
<text font-size="8" font-weight="bold" y="1324.5" fill="#111"><tspan x="1476">1p12</tspan><tspan x="1476" dy="9.2">1p31.1</tspan><tspan x="1476" dy="9.2">1p31.3</tspan><tspan x="1476" dy="9.2">1p32.1</tspan><tspan x="1476" dy="9.2">1p22.2</tspan><tspan x="1476" dy="9.2">1p36.11</tspan><tspan x="1476" dy="9.2">1p36.22</tspan><tspan x="1476" dy="9.2">1p36.32</tspan><tspan x="1476" dy="9.2">1q43</tspan><tspan x="1476" dy="9.2">2p14</tspan><tspan x="1476" dy="9.2">2p21</tspan><tspan x="1476" dy="9.2">2p22.3</tspan><tspan x="1476" dy="9.2">2p23.3</tspan><tspan x="1476" dy="9.2">2q11.2</tspan><tspan x="1476" dy="9.2">2q14.3</tspan><tspan x="1476" dy="9.2">2q22.1</tspan><tspan x="1476" dy="9.2">3p12.3</tspan><tspan x="1476" dy="9.2">3p13</tspan><tspan x="1476" dy="9.2">3p14.2</tspan><tspan x="1476" dy="9.2">3p21.31</tspan><tspan x="1476" dy="9.2">3p24.1</tspan><tspan x="1476" dy="9.2">3q21.2 (PIK3CB)</tspan><tspan x="1476" dy="9.2">3q22.2</tspan><tspan x="1476" dy="9.2">3q27.2</tspan><tspan x="1476" dy="9.2">4q13.1</tspan><tspan x="1476" dy="9.2">4p16.3</tspan><tspan x="1476" dy="9.2">4q22.2</tspan><tspan x="1476" dy="9.2">4q34.3</tspan><tspan x="1476" dy="9.2">4q35.2</tspan><tspan x="1476" dy="9.2">5p15.33</tspan><tspan x="1476" dy="9.2">5q35.1</tspan><tspan x="1476" dy="9.2">5q35.3</tspan><tspan x="1476" dy="9.2">6p21.1</tspan><tspan x="1476" dy="9.2">6p21.32</tspan><tspan x="1476" dy="9.2">6p22.2</tspan><tspan x="1476" dy="9.2">6p25.1</tspan><tspan x="1476" dy="9.2">6q14.3</tspan><tspan x="1476" dy="9.2">6q16.1</tspan><tspan x="1476" dy="9.2">6q22.1</tspan><tspan x="1476" dy="9.2">6q26</tspan><tspan x="1476" dy="9.2">6q27</tspan><tspan x="1476" dy="9.2">7p12.1</tspan><tspan x="1476" dy="9.2">7p22.2</tspan><tspan x="1476" dy="9.2">7q36.2 (BRAF)</tspan><tspan x="1476" dy="9.2">8p21.2</tspan><tspan x="1476" dy="9.2">8p23.2</tspan><tspan x="1476" dy="9.2">10q23.31</tspan><tspan x="1476" dy="9.2">10q25.3 (FGFR2)</tspan><tspan x="1476" dy="9.2">9p21.3 (CDKN2B)</tspan><tspan x="1476" dy="9.2">9p24.1</tspan><tspan x="1476" dy="9.2">9q21.13</tspan><tspan x="1476" dy="9.2">9q22.2</tspan><tspan x="1476" dy="9.2">9q22.33</tspan><tspan x="1476" dy="9.2">9q34.3</tspan><tspan x="1476" dy="9.2">10q11.21</tspan><tspan x="1476" dy="9.2">10q21.2</tspan><tspan x="1476" dy="9.2">10q25.2</tspan><tspan x="1476" dy="9.2">10q26.13 (FGFR2)</tspan><tspan x="1476" dy="9.2">11p15.4</tspan><tspan x="1476" dy="9.2">11p15.5</tspan><tspan x="1476" dy="9.2">11q12.1</tspan><tspan x="1476" dy="9.2">11q12.3</tspan><tspan x="1476" dy="9.2">11q13.3</tspan><tspan x="1476" dy="9.2">11q13.4</tspan><tspan x="1476" dy="9.2">11q14.2 (ATM, CCND1, PGR)</tspan><tspan x="1476" dy="9.2">11q22.1</tspan><tspan x="1476" dy="9.2">11q22.3</tspan><tspan x="1476" dy="9.2">12p13.32 (CCND2)</tspan><tspan x="1476" dy="9.2">12q24.21</tspan><tspan x="1476" dy="9.2">12q24.31</tspan><tspan x="1476" dy="9.2">13q12.2</tspan><tspan x="1476" dy="9.2">13q13.1 (BRCA2)</tspan><tspan x="1476" dy="9.2">13q14.11</tspan><tspan x="1476" dy="9.2">13q14.2 (RB1)</tspan><tspan x="1476" dy="9.2">13q33.1</tspan><tspan x="1476" dy="9.2">14q13.3</tspan><tspan x="1476" dy="9.2">14q23.3</tspan><tspan x="1476" dy="9.2">14q31.1 (AKT1)</tspan><tspan x="1476" dy="9.2">14q32.13</tspan><tspan x="1476" dy="9.2">15q22.31 (MAP2K1)</tspan><tspan x="1476" dy="9.2">15q25.3</tspan><tspan x="1476" dy="9.2">16q12.2</tspan><tspan x="1476" dy="9.2">16q22.2</tspan><tspan x="1476" dy="9.2">16q23.3</tspan><tspan x="1476" dy="9.2">16q24.3 (PALB2)</tspan><tspan x="1476" dy="9.2">17p11.2</tspan><tspan x="1476" dy="9.2">17p12 (BRCA1, ERBB2)</tspan><tspan x="1476" dy="9.2">17p13.1(TP53)</tspan><tspan x="1476" dy="9.2">17p13.1</tspan><tspan x="1476" dy="9.2">17q11.2</tspan><tspan x="1476" dy="9.2">17q12</tspan><tspan x="1476" dy="9.2">17q21.33 (BRCA1)</tspan><tspan x="1476" dy="9.2">18q12.3</tspan><tspan x="1476" dy="9.2">19p13.3</tspan><tspan x="1476" dy="9.2">19p13.12</tspan><tspan x="1476" dy="9.2">19q12 (CCNE1)</tspan><tspan x="1476" dy="9.2">20q12</tspan><tspan x="1476" dy="9.2">21q22.2</tspan><tspan x="1476" dy="9.2">22q13.2</tspan></text>
</svg>
</body></html>
